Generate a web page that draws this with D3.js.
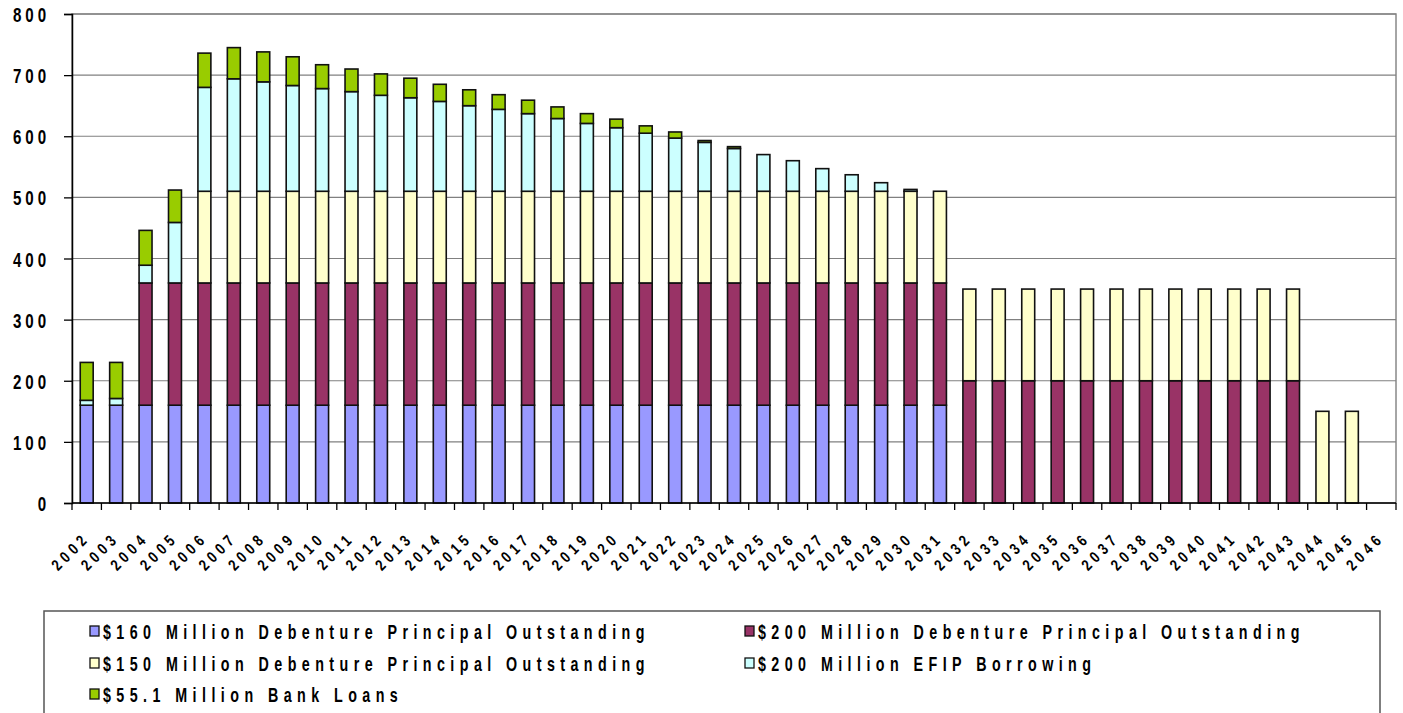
<!DOCTYPE html>
<html>
<head>
<meta charset="utf-8">
<script src="https://cdn.jsdelivr.net/npm/d3@7"></script>
<style>
  body { margin: 0; background: #fff; }
  svg { display: block; font-family: "Liberation Sans", Arial, sans-serif; font-weight: bold; }
</style>
</head>
<body>
<div id="chart"></div>
<script>
const years = d3.range(2002, 2047).map(String);

// $ millions outstanding
const debt160 = [160,160,160,160,160,160,160,160,160,160,160,160,160,160,160,160,160,160,160,160,160,160,160,160,160,160,160,160,160,160,0,0,0,0,0,0,0,0,0,0,0,0,0,0,0];
const debt200 = [0,0,200,200,200,200,200,200,200,200,200,200,200,200,200,200,200,200,200,200,200,200,200,200,200,200,200,200,200,200,200,200,200,200,200,200,200,200,200,200,200,200,0,0,0];
const debt150 = [0,0,0,0,150,150,150,150,150,150,150,150,150,150,150,150,150,150,150,150,150,150,150,150,150,150,150,150,150,150,150,150,150,150,150,150,150,150,150,150,150,150,150,150,0];
const efip = [8,11,29,99,170,184,179,173,168,163,157,153,147,140,134,127,119,111,104,95,87,80,70,60,50,37,27,14,3,0,0,0,0,0,0,0,0,0,0,0,0,0,0,0,0];
const bankLoans = [62,59,57,53,56,51,49,47,39,37,35,32,28,26,24,22,19,16,14,12,10,3,3,0,0,0,0,0,0,0,0,0,0,0,0,0,0,0,0,0,0,0,0,0,0];

const seriesNames = [
  "$160 Million Debenture Principal Outstanding",
  "$200 Million Debenture Principal Outstanding",
  "$150 Million Debenture Principal Outstanding",
  "$200 Million EFIP Borrowing",
  "$55.1 Million Bank Loans"
];
const seriesColors = ["#9999ff", "#993366", "#ffffcc", "#ccffff", "#99cc00"];
const yTicks = [0, 100, 200, 300, 400, 500, 600, 700, 800];

const width = 1403, height = 713;
const margin = { left: 72, right: 7, top: 14, bottom: 210 };

const rows = years.map((y, i) => ({
  year: y, k0: debt160[i], k1: debt200[i], k2: debt150[i], k3: efip[i], k4: bankLoans[i]
}));
const keys = ["k0", "k1", "k2", "k3", "k4"];
const stacked = d3.stack().keys(keys)(rows);

const svg = d3.select("#chart").append("svg")
  .attr("width", width)
  .attr("height", height);

const x = d3.scaleBand()
  .domain(years)
  .range([margin.left, width - margin.right])
  .paddingInner(0.56)
  .paddingOuter(0.28);

const y = d3.scaleLinear()
  .domain([0, 800])
  .range([height - margin.bottom, margin.top]);

// plot frame + gridlines
svg.append("rect")
  .attr("x", margin.left).attr("y", margin.top)
  .attr("width", width - margin.right - margin.left)
  .attr("height", y(0) - margin.top)
  .attr("fill", "none").attr("stroke", "#888").attr("stroke-width", 1.5);

svg.append("g").selectAll("line")
  .data(yTicks.filter(d => d > 0))
  .join("line")
  .attr("x1", margin.left).attr("x2", width - margin.right)
  .attr("y1", d => y(d)).attr("y2", d => y(d))
  .attr("stroke", "#808080").attr("stroke-width", 1.2);

// bars
svg.append("g").selectAll("g")
  .data(stacked)
  .join("g")
  .attr("fill", (d, i) => seriesColors[i])
  .selectAll("rect")
  .data(d => d.filter(p => p[1] - p[0] > 0))
  .join("rect")
  .attr("x", d => x(d.data.year))
  .attr("width", x.bandwidth())
  .attr("y", d => y(d[1]))
  .attr("height", d => y(d[0]) - y(d[1]))
  .attr("stroke", "#111").attr("stroke-width", 1.6);

// y axis (labels are squeezed horizontally like the original)
const yAxis = svg.append("g")
  .attr("transform", `translate(${margin.left},0)`)
  .call(d3.axisLeft(y).tickValues(yTicks).tickSize(8).tickFormat(d3.format("d")));
yAxis.select(".domain").attr("stroke", "#000").attr("stroke-width", 1.5);
yAxis.selectAll(".tick line").attr("stroke", "#000").attr("stroke-width", 1.3);
yAxis.selectAll("text")
  .attr("x", 0)
  .attr("dy", "0.36em")
  .attr("transform", "translate(-22,0) scale(0.72,1)")
  .attr("fill", "#000")
  .style("font-size", "21px")
  .style("font-weight", "bold")
  .style("letter-spacing", "5.5px");

// x axis: ticks on category boundaries, labels slanted
const xg = svg.append("g");
xg.append("line")
  .attr("x1", margin.left).attr("x2", width - margin.right)
  .attr("y1", y(0)).attr("y2", y(0))
  .attr("stroke", "#000").attr("stroke-width", 1.5);

const bounds = d3.range(years.length + 1).map(i => margin.left + i * x.step());
xg.selectAll(".xt")
  .data(bounds)
  .join("line")
  .attr("class", "xt")
  .attr("x1", d => d).attr("x2", d => d)
  .attr("y1", y(0)).attr("y2", y(0) + 7)
  .attr("stroke", "#000").attr("stroke-width", 1.3);

xg.selectAll("text")
  .data(years)
  .join("text")
  .attr("transform", d => `translate(${x(d) + x.bandwidth() / 2},${y(0) + 32}) rotate(-45) scale(0.8,1)`)
  .attr("text-anchor", "end")
  .attr("dy", "0.35em")
  .style("font-size", "16px")
  .style("letter-spacing", "5.5px")
  .text(d => d);

// legend
const legend = svg.append("g");
legend.append("rect")
  .attr("x", 44).attr("y", 611)
  .attr("width", 1336).attr("height", 120)
  .attr("fill", "#fff").attr("stroke", "#555").attr("stroke-width", 1.5);

const legendPos = [[90, 631], [745, 631], [90, 663], [745, 663], [90, 694]];
const items = legend.selectAll("g.item")
  .data(seriesNames)
  .join("g")
  .attr("class", "item")
  .attr("transform", (d, i) => `translate(${legendPos[i][0]},${legendPos[i][1]})`);

items.append("rect")
  .attr("x", 0).attr("y", -5)
  .attr("width", 9).attr("height", 10)
  .attr("fill", (d, i) => seriesColors[i])
  .attr("stroke", "#111").attr("stroke-width", 1.3);

items.append("text")
  .attr("transform", "translate(13,0) scale(0.68,1)")
  .attr("dy", "0.36em")
  .style("font-size", "21px")
  .style("letter-spacing", "8px")
  .text(d => d);
</script>
</body>
</html>
